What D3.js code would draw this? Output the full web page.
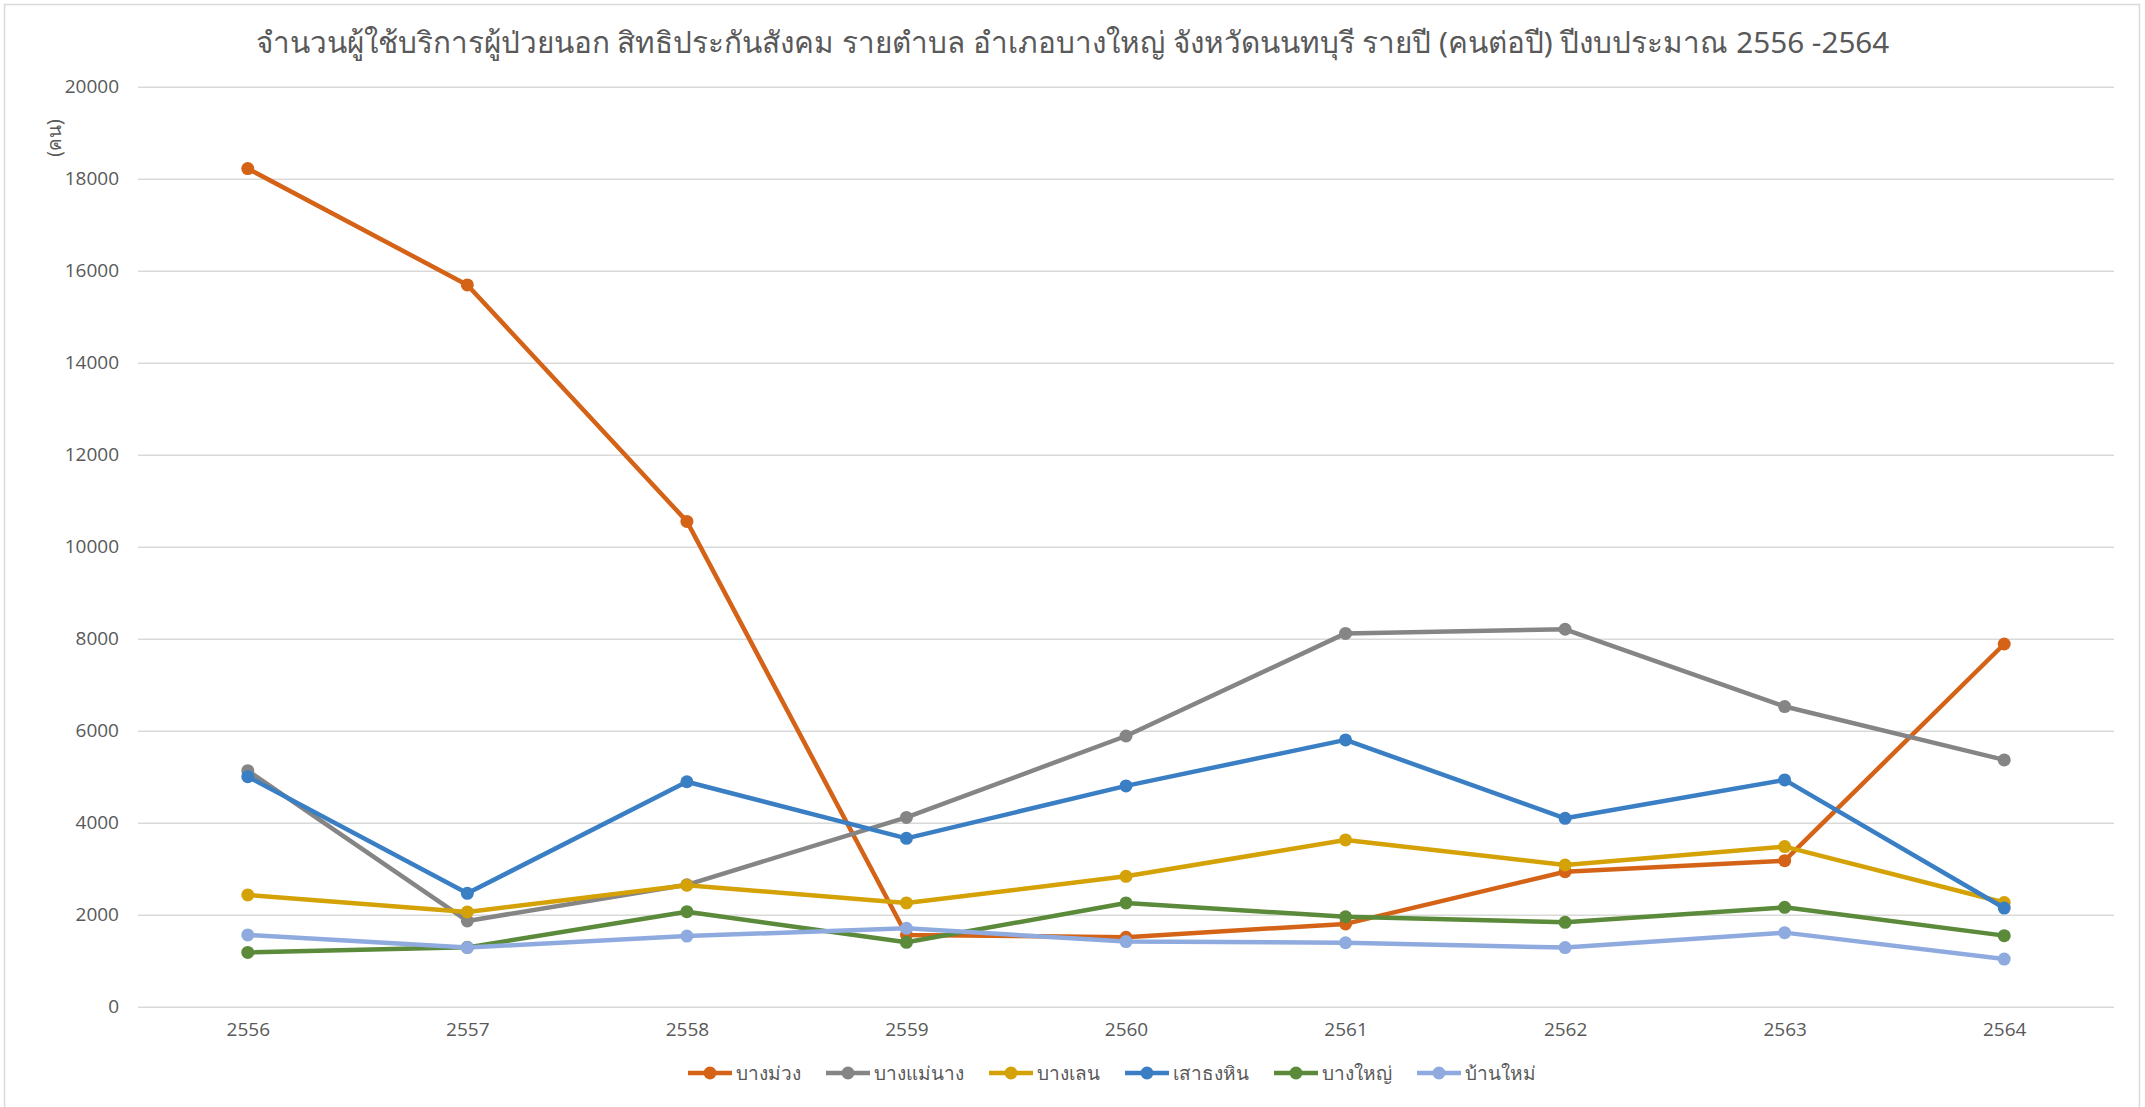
<!DOCTYPE html>
<html>
<head>
<meta charset="utf-8">
<script src="https://cdn.jsdelivr.net/npm/d3@7"></script>
<style>
  html, body { margin: 0; padding: 0; background: #fff; }
  svg { display: block; font-family: "Noto Sans", "Open Sans", sans-serif; }
</style>
</head>
<body>
<svg id="chart" width="2145" height="1107"></svg>
<script>
const title = "จำนวนผู้ใช้บริการผู้ป่วยนอก สิทธิประกันสังคม รายตำบล อำเภอบางใหญ่ จังหวัดนนทบุรี รายปี (คนต่อปี) ปีงบประมาณ 2556 -2564";
const yAxisTitle = "(คน)";
const years = ["2556", "2557", "2558", "2559", "2560", "2561", "2562", "2563", "2564"];
const yTicks = [0, 2000, 4000, 6000, 8000, 10000, 12000, 14000, 16000, 18000, 20000];

const seriesNames = ["บางม่วง", "บางแม่นาง", "บางเลน", "เสาธงหิน", "บางใหญ่", "บ้านใหม่"];
const seriesColors = ["#d46317", "#858585", "#d4a106", "#3a7fc4", "#5a8a3a", "#8faadf"];

const bangMuang   = [18220, 15690, 10550, 1560, 1510, 1800, 2935, 3175, 7885];
const bangMaeNang = [5130, 1865, 2650, 4115, 5885, 8115, 8205, 6525, 5365];
const bangLen     = [2430, 2060, 2640, 2255, 2835, 3625, 3080, 3480, 2265];
const saoThongHin = [5000, 2465, 4890, 3660, 4800, 5800, 4095, 4930, 2145];
const bangYai     = [1180, 1290, 2065, 1400, 2255, 1955, 1835, 2160, 1545];
const banMai      = [1560, 1285, 1535, 1705, 1415, 1390, 1285, 1610, 1035];

const seriesValues = [bangMuang, bangMaeNang, bangLen, saoThongHin, bangYai, banMai];

const svg = d3.select("#chart");
const W = 2145, H = 1107;
const margin = { left: 138, right: 31, top: 86.7, bottom: 100.3 };

// chart border
svg.append("rect").attr("x", 4.5).attr("y", 4.5).attr("width", 2135).attr("height", 1110)
  .attr("fill", "#fff").attr("stroke", "#d9d9d9").attr("stroke-width", 1.5);

const x = d3.scalePoint().domain(years).range([margin.left, W - margin.right]).padding(0.5);
const y = d3.scaleLinear().domain([0, 20000]).range([H - margin.bottom, margin.top]);

// gridlines
const grid = svg.append("g")
  .attr("transform", `translate(${margin.left},0)`)
  .call(d3.axisLeft(y).tickValues(yTicks).tickSize(-(W - margin.right - margin.left)).tickFormat(""));
grid.select(".domain").remove();
grid.selectAll("line").attr("stroke", "#d9d9d9").attr("stroke-width", 1.5);

// y tick labels
const yAxis = svg.append("g")
  .attr("transform", `translate(${margin.left - 19},0)`)
  .call(d3.axisLeft(y).tickValues(yTicks).tickSize(0).tickPadding(0).tickFormat(d3.format("d")));
yAxis.select(".domain").remove();
yAxis.selectAll("text").attr("fill", "#595959").style("font-size", "19px")
  .style("font-family", "'Open Sans', sans-serif");

// x axis labels
const xAxis = svg.append("g")
  .attr("transform", `translate(0,${H - margin.bottom + 16})`)
  .call(d3.axisBottom(x).tickSize(0).tickPadding(0));
xAxis.select(".domain").remove();
xAxis.selectAll("text").attr("fill", "#595959").style("font-size", "19px")
  .style("font-family", "'Open Sans', sans-serif");

// title
svg.append("text").attr("x", W / 2).attr("y", 53).attr("text-anchor", "middle")
  .attr("fill", "#595959").style("font-size", "29.7px").text(title);

// y axis title
svg.append("text").attr("transform", `translate(61,138) rotate(-90)`)
  .attr("text-anchor", "middle").attr("fill", "#595959").style("font-size", "19px").text(yAxisTitle);

// lines
const line = d3.line().x((d, i) => x(years[i])).y(d => y(d));
seriesValues.forEach((vals, si) => {
  const g = svg.append("g");
  g.append("path").datum(vals).attr("d", line).attr("fill", "none")
    .attr("stroke", seriesColors[si]).attr("stroke-width", 4.5)
    .attr("stroke-linejoin", "round").attr("stroke-linecap", "round");
  g.selectAll("circle").data(vals).join("circle")
    .attr("cx", (d, i) => x(years[i])).attr("cy", d => y(d)).attr("r", 6.5)
    .attr("fill", seriesColors[si]);
});

// legend
const legend = svg.append("g");
const items = legend.selectAll("g").data(seriesNames).join("g");
items.append("line").attr("x1", 0).attr("x2", 44).attr("y1", 0).attr("y2", 0)
  .attr("stroke", (d, i) => seriesColors[i]).attr("stroke-width", 4.5);
items.append("circle").attr("cx", 22).attr("cy", 0).attr("r", 6.5).attr("fill", (d, i) => seriesColors[i]);
items.append("text").attr("x", 48).attr("y", 0).attr("dy", "0.35em").attr("fill", "#595959")
  .style("font-size", "19px").text(d => d);
let widths = [];
items.each(function() { widths.push(48 + d3.select(this).select("text").node().getComputedTextLength()); });
const gap = 25;
const total = d3.sum(widths) + gap * (widths.length - 1);
let cx = 1112 - total / 2;
items.each(function(d, i) { d3.select(this).attr("transform", `translate(${cx},1073)`); cx += widths[i] + gap; });
</script>
</body>
</html>
